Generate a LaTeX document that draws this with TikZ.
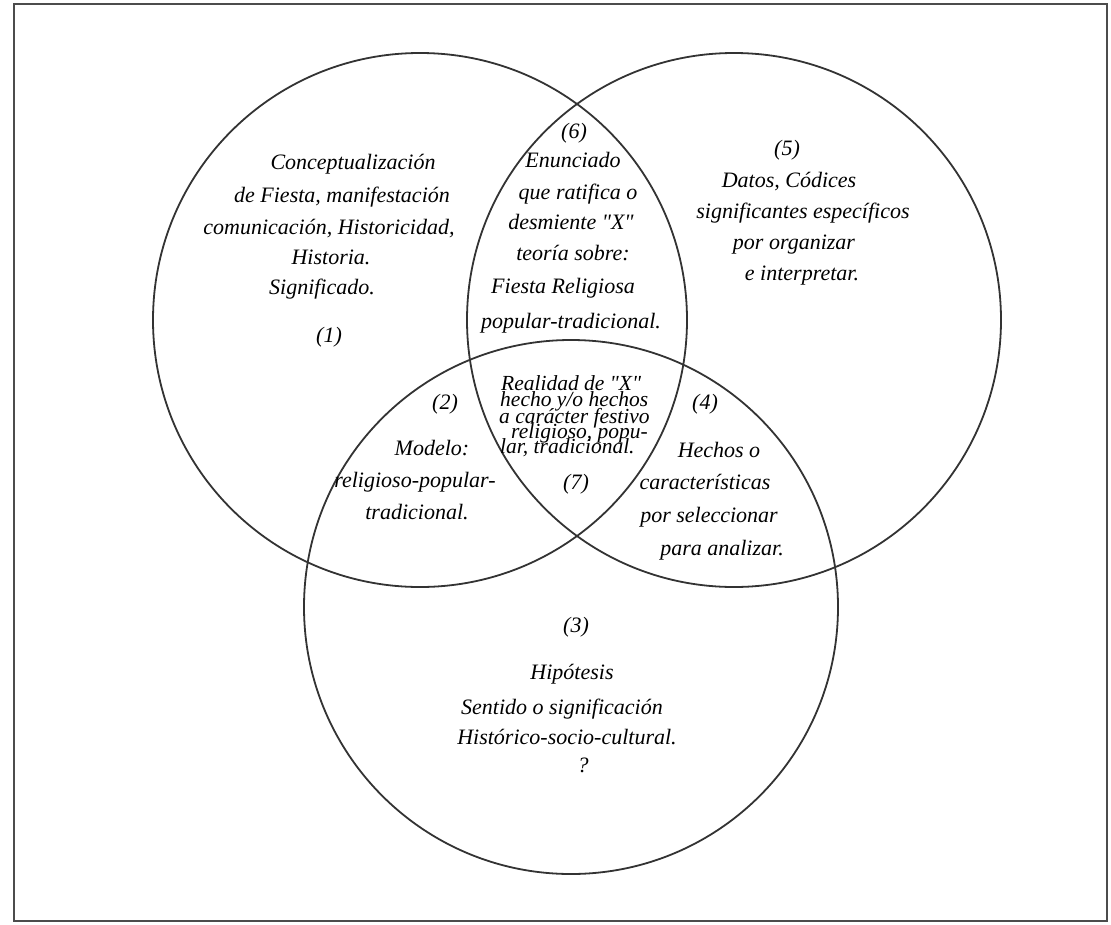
\documentclass[tikz,border=0pt]{standalone}
\usepackage{fontspec}
\setmainfont{Liberation Serif}[Ligatures=TeXOff]
\begin{document}
\begin{tikzpicture}[x=1pt,y=-1pt,
  frame/.style={draw=black!70,line width=2.4pt},
  ring/.style={circle,draw=black!80,line width=1.8pt,inner sep=0pt,minimum size=534pt},
  lbl/.style={anchor=base,inner sep=0pt,font=\itshape\fontsize{22}{26}\selectfont},
  mid/.style={anchor=base west,inner sep=0pt,font=\itshape\fontsize{21.5}{16}\selectfont}]
\useasboundingbox (0,0) rectangle (1111,924);
\draw[frame] (14,4) rectangle (1107,921);

% the three sets
\node[ring] (c1) at (420,320) {};
\node[ring] (c2) at (734,320) {};
\node[ring] (c3) at (571,607) {};

% (1) left set
\node[lbl] (t1a) at (353,169) {Conceptualización};
\node[lbl] (t1b) at (342,202) {de Fiesta, manifestación};
\node[lbl] (t1c) at (329,234) {comunicación, Historicidad,};
\node[lbl] (t1d) at (331,264) {Historia.};
\node[lbl] (t1e) at (322,294) {Significado.};
\node[lbl] (t1n) at (329,342) {(1)};

% (6) top lens
\node[lbl] (t6n) at (574,138) {(6)};
\node[lbl] (t6a) at (573,167) {Enunciado};
\node[lbl] (t6b) at (578,199) {que ratifica o};
\node[lbl] (t6c) at (571,229) {desmiente "X"};
\node[lbl] (t6d) at (573,260) {teoría sobre:};
\node[lbl] (t6e) at (563,293) {Fiesta Religiosa};
\node[lbl] (t6f) at (571,328) {popular-tradicional.};

% (5) right set
\node[lbl] (t5n) at (787,155) {(5)};
\node[lbl] (t5a) at (789,187) {Datos, Códices};
\node[lbl] (t5b) at (803,218) {significantes específicos};
\node[lbl] (t5c) at (794,249) {por organizar};
\node[lbl] (t5d) at (802,280) {e interpretar.};

% (2) left lens
\node[lbl] (t2n) at (445,409) {(2)};
\node[lbl] (t2a) at (432,455) {Modelo:};
\node[lbl] (t2b) at (415,487) {religioso-popular-};
\node[lbl] (t2c) at (417,519) {tradicional.};

% (7) centre, tightly set
\node[mid] (t7a) at (501,390) {Realidad de "X"};
\node[mid] (t7b) at (500,406) {hecho y/o hechos};
\node[mid] (t7c) at (499,423) {a carácter festivo};
\node[mid] (t7d) at (511,438) {religioso, popu-};
\node[mid] (t7e) at (500,453) {lar, tradicional.};
\node[lbl] (t7n) at (576,489) {(7)};

% (4) right lens
\node[lbl] (t4n) at (705,409) {(4)};
\node[lbl] (t4a) at (719,457) {Hechos o};
\node[lbl] (t4b) at (705,489) {características};
\node[lbl] (t4c) at (709,522) {por seleccionar};
\node[lbl] (t4d) at (722,555) {para analizar.};

% (3) bottom set
\node[lbl] (t3n) at (576,632) {(3)};
\node[lbl] (t3a) at (572,679) {Hipótesis};
\node[lbl] (t3b) at (562,714) {Sentido o significación};
\node[lbl] (t3c) at (567,744) {Histórico-socio-cultural.};
\node[lbl] (t3d) at (583,772) {?};
\end{tikzpicture}
\end{document}
